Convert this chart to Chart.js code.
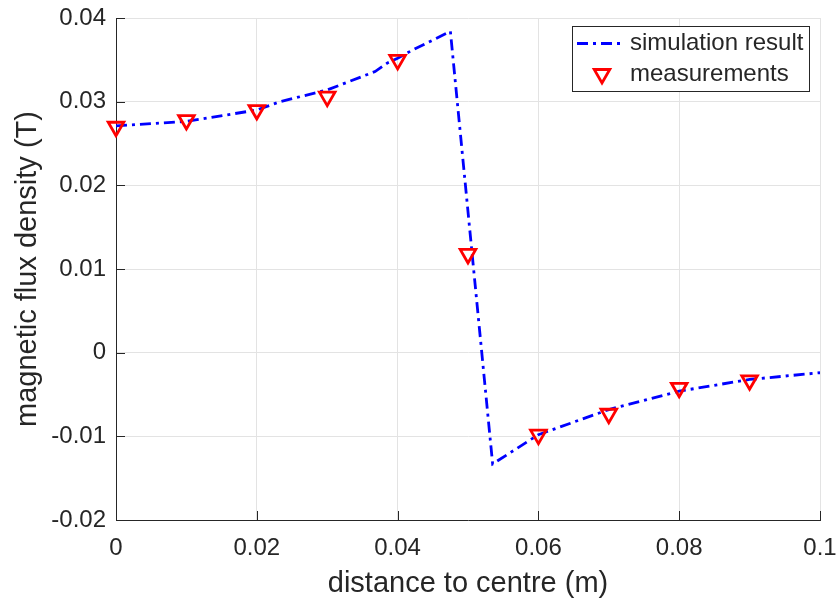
<!DOCTYPE html>
<html>
<head>
<meta charset="utf-8">
<script src="https://cdn.jsdelivr.net/npm/chart.js@4/dist/chart.umd.min.js"></script>
<style>
  html, body { margin: 0; padding: 0; background: #fff; }
  #c { display: block; }
</style>
</head>
<body>
<canvas id="c" width="839" height="605"></canvas>
<script>
// simulation curve
const simX = [0, 0.01, 0.02, 0.0233, 0.03, 0.0368, 0.0385, 0.04, 0.0422, 0.0475, 0.0535, 0.06, 0.065, 0.07, 0.075, 0.08, 0.085, 0.09, 0.095, 0.1];
const simY = [0.0271, 0.02765, 0.0290, 0.0300, 0.0314, 0.0336, 0.0346, 0.0352, 0.0362, 0.0384, -0.0133, -0.0098, -0.0083, -0.0068, -0.0057, -0.0046, -0.0039, -0.0032, -0.0028, -0.0024];
// measured points
const measX = [0, 0.01, 0.02, 0.03, 0.04, 0.05, 0.06, 0.07, 0.08, 0.09];
const measY = [0.0270, 0.0278, 0.0290, 0.0306, 0.0350, 0.0118, -0.0098, -0.0073, -0.0042, -0.0033];
const legendLabels = ['simulation result', 'measurements'];

const FONT = '"Liberation Sans", Arial, Helvetica, sans-serif';
const AXIS = '#262626';
const fmt = (v) => String(Number(Number(v).toFixed(2)));

// MATLAB style ticks pointing into the plot
const innerTicks = {
  id: 'innerTicks',
  afterDatasetsDraw(chart) {
    const { ctx, chartArea: a, scales: { x, y } } = chart;
    ctx.save();
    ctx.strokeStyle = AXIS;
    ctx.lineWidth = 1;
    ctx.beginPath();
    x.ticks.forEach((t) => {
      const px = Math.round(x.getPixelForValue(t.value)) + 0.5;
      ctx.moveTo(px, a.bottom); ctx.lineTo(px, a.bottom - 9);
    });
    y.ticks.forEach((t) => {
      const py = Math.round(y.getPixelForValue(t.value)) + 0.5;
      ctx.moveTo(a.left, py); ctx.lineTo(a.left + 9, py);
    });
    ctx.stroke();
    ctx.restore();
  }
};

// boxed legend in the top right corner
const boxLegend = {
  id: 'boxLegend',
  afterDraw(chart) {
    const { ctx } = chart;
    const sim = chart.data.datasets[0], meas = chart.data.datasets[1];
    const bx = 572, by = 26, bw = 237, bh = 65;
    ctx.save();
    ctx.fillStyle = '#fff';
    ctx.fillRect(bx, by, bw, bh);
    ctx.strokeStyle = AXIS;
    ctx.lineWidth = 1;
    ctx.strokeRect(bx + 0.5, by + 0.5, bw, bh);

    ctx.strokeStyle = sim.borderColor;
    ctx.lineWidth = sim.borderWidth;
    ctx.setLineDash(sim.borderDash);
    ctx.beginPath(); ctx.moveTo(577, 43.5); ctx.lineTo(624, 43.5); ctx.stroke();
    ctx.setLineDash([]);

    // downward triangle like the data markers
    const cx = 602, cy = 74, r = meas.pointRadius;
    ctx.strokeStyle = meas.borderColor;
    ctx.lineWidth = meas.pointBorderWidth;
    ctx.beginPath();
    ctx.moveTo(cx - r * 0.866, cy - r * 0.5);
    ctx.lineTo(cx + r * 0.866, cy - r * 0.5);
    ctx.lineTo(cx, cy + r);
    ctx.closePath();
    ctx.stroke();

    ctx.fillStyle = AXIS;
    ctx.font = '24px ' + FONT;
    ctx.textBaseline = 'middle';
    ctx.fillText(legendLabels[0], 630, 43);
    ctx.fillText(legendLabels[1], 630, 74);
    ctx.restore();
  }
};

new Chart(document.getElementById('c'), {
  type: 'scatter',
  data: {
    datasets: [
      {
        label: legendLabels[0],
        data: simX.map((x, i) => ({ x, y: simY[i] })),
        showLine: true,
        borderColor: '#0000ff',
        borderWidth: 2.8,
        borderDash: [11, 5, 3, 5],
        borderCapStyle: 'butt',
        pointRadius: 0,
        tension: 0,
        order: 2
      },
      {
        label: legendLabels[1],
        data: measX.map((x, i) => ({ x, y: measY[i] })),
        showLine: false,
        pointStyle: 'triangle',
        rotation: 180,
        pointRadius: 9,
        pointBorderWidth: 2.8,
        borderColor: '#ff0000',
        pointBorderColor: '#ff0000',
        pointBackgroundColor: 'rgba(255,255,255,0)',
        clip: false,
        order: 1
      }
    ]
  },
  options: {
    responsive: false,
    animation: false,
    events: [],
    layout: { padding: { left: 0, right: 19, top: 18, bottom: 0 } },
    plugins: { legend: { display: false }, tooltip: { enabled: false } },
    scales: {
      x: {
        type: 'linear', min: 0, max: 0.1,
        afterFit: (s) => { s.height = 85; s.paddingLeft = 0; s.paddingRight = 0; },
        ticks: { stepSize: 0.02, color: AXIS, padding: 14, maxRotation: 0, font: { family: FONT, size: 24 }, callback: fmt },
        grid: { color: '#e3e3e3', drawTicks: false },
        border: { color: AXIS, width: 1 },
        title: { display: true, text: 'distance to centre (m)', color: AXIS, font: { family: FONT, size: 29 }, padding: { top: 0, bottom: 4 } }
      },
      y: {
        type: 'linear', min: -0.02, max: 0.04,
        afterFit: (s) => { s.width = 116; s.paddingTop = 0; s.paddingBottom = 0; },
        ticks: { stepSize: 0.01, color: AXIS, padding: 10, font: { family: FONT, size: 24 }, callback: fmt },
        grid: { color: '#e3e3e3', drawTicks: false },
        border: { color: AXIS, width: 1 },
        title: { display: true, text: 'magnetic flux density (T)', color: AXIS, font: { family: FONT, size: 29 }, padding: { top: 11, bottom: 0 } }
      }
    }
  },
  plugins: [innerTicks, boxLegend]
});
</script>
</body>
</html>
